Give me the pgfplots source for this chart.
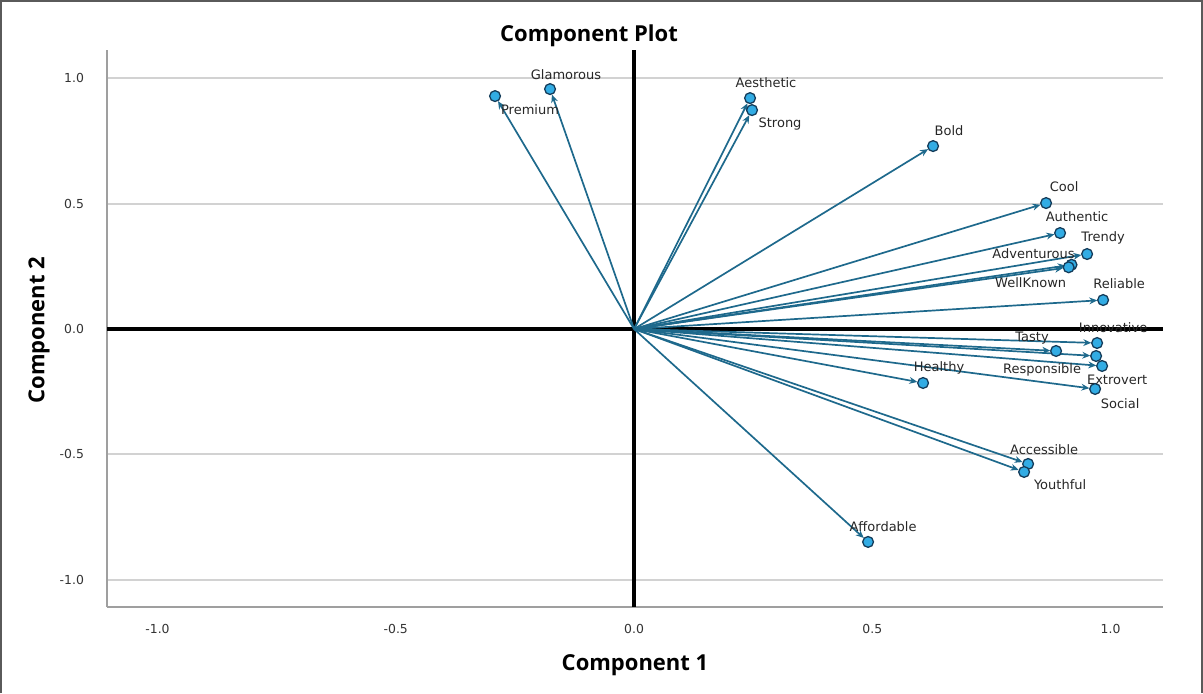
\documentclass[border=0pt]{standalone}
\usepackage{pgfplots}
\pgfplotsset{compat=1.18}
\usepackage{pgfplotstable}
\usepackage{fontspec}
\setmainfont{DejaVu Sans}
\newfontfamily\osans{Open Sans}
\usetikzlibrary{arrows.meta}
\definecolor{arrowcol}{RGB}{30,105,140}
\definecolor{markfill}{RGB}{50,172,228}
\definecolor{markedge}{RGB}{20,60,90}
\definecolor{gridcol}{RGB}{210,210,210}
\definecolor{framecol}{RGB}{90,90,90}

\pgfplotstableread{
x y dx dy label
-0.2917 0.9283 17.5 -7 Premium
-0.1763 0.9562 8 7 Glamorous
0.2434 0.9203 8 7.5 Aesthetic
0.2476 0.8725 14 -7 Strong
0.6275 0.7291 8 7.5 Bold
0.8646 0.5020 9 8 Cool
0.8940 0.3825 8.5 8 Authentic
0.9507 0.2988 8 8 Trendy
0.9180 0.2560 -19 5.5 Adventurous
0.9120 0.2460 -19 -7.5 WellKnown
0.9843 0.1155 8 8 Reliable
0.9717 -0.0558 8 7.5 Innovative
0.8856 -0.0876 -12 6.5 Tasty
0.9696 -0.1076 -27 -7 Responsible
0.9822 -0.1474 7.5 -7 Extrovert
0.9675 -0.2390 12.5 -7.5 Social
0.6065 -0.2151 8 7.5 Healthy
0.8269 -0.5378 8 7 Accessible
0.8185 -0.5697 18 -6.5 Youthful
0.4911 -0.8486 7.5 7.5 Affordable
}\loadings

\begin{document}
\begin{tikzpicture}
\useasboundingbox (0,0) rectangle (601.5pt,346.5pt);
\begin{axis}[
  at={(53.5pt,43pt)}, anchor=south west,
  scale only axis, width=528pt, height=278.5pt,
  xmin=-1.106, xmax=1.110, ymin=-1.108, ymax=1.112,
  axis x line*=bottom, axis y line*=left,
  axis line style={-, draw=gray!75, line width=0.6pt},
  xtick={-1,-0.5,0,0.5,1}, ytick={-1,-0.5,0,0.5,1},
  major tick length=0pt,
  ymajorgrids, grid style={gridcol, line width=1pt},
  /pgf/number format/assume math mode=true,
  /pgf/number format/.cd, fixed, fixed zerofill, precision=1, /pgfplots/.cd,
  ticklabel style={font=\fontsize{6.2}{7}\selectfont, text=black!80},
  xticklabel style={yshift=-5pt},
  yticklabel style={xshift=-8pt},
  clip=false,
]
\addplot[black, line width=2pt, forget plot] coordinates {(0,-1.108) (0,1.112)};
\addplot[black, line width=2pt, forget plot] coordinates {(-1.106,0) (1.110,0)};
\addplot[arrowcol, line width=0.85pt,
  quiver={u=\thisrow{x}, v=\thisrow{y},
    every arrow/.append style={-{Stealth[length=4pt,width=3.4pt]}, shorten >=2.9pt}}]
  table[x expr=0, y expr=0] {\loadings};
\addplot[only marks, mark=*, mark size=2.7pt,
  mark options={fill=markfill, draw=markedge, line width=0.65pt},
  point meta=explicit symbolic,
  visualization depends on={\thisrow{dx}\as\dx},
  visualization depends on={\thisrow{dy}\as\dy},
  nodes near coords,
  every node near coord/.style={anchor=center, inner sep=0pt,
    font=\fontsize{6.5}{7}\selectfont, text=black!85,
    xshift=\dx pt, yshift=\dy pt}]
  table[x=x, y=y, meta=label] {\loadings};
\end{axis}
\node[font=\osans\bfseries\fontsize{11}{13}\selectfont] at (294.5pt,328.5pt) {Component Plot};
\node[font=\osans\bfseries\fontsize{11}{13}\selectfont] at (317.5pt,14pt) {Component 1};
\node[font=\osans\bfseries\fontsize{11}{13}\selectfont, rotate=90] at (19.5pt,181.5pt) {Component 2};
\draw[framecol, line width=1pt] (0.5pt,0pt) -- (0.5pt,346pt) -- (601pt,346pt) -- (601pt,0pt);
\end{tikzpicture}
\end{document}
